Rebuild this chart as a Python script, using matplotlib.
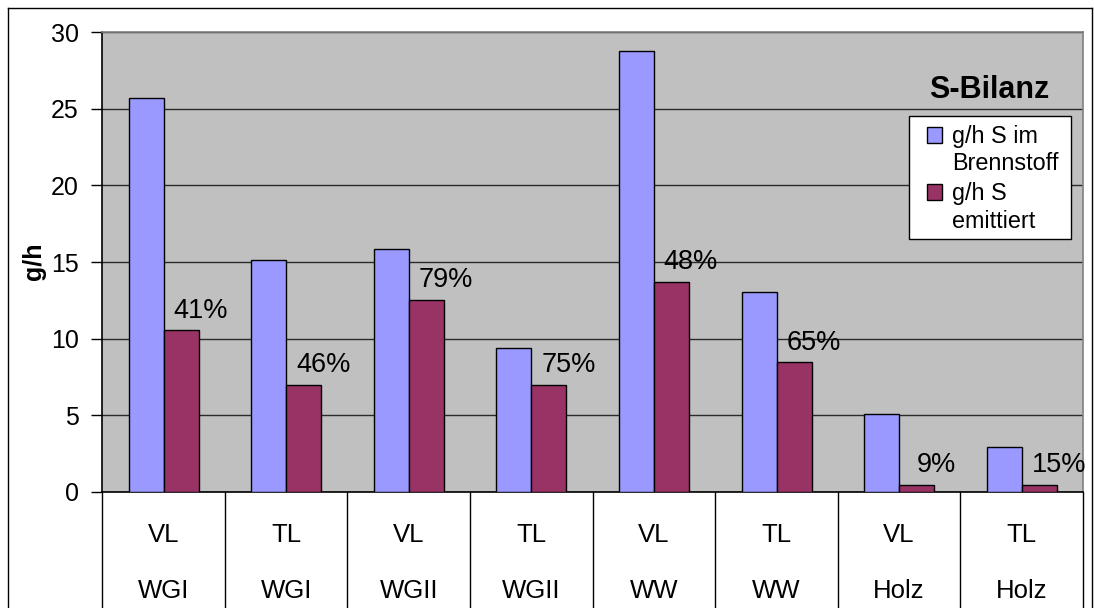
import matplotlib
matplotlib.use('Agg')
import matplotlib.pyplot as plt
from matplotlib.patches import Rectangle
from matplotlib.lines import Line2D
import numpy as np

plt.rcParams['font.family'] = ['Liberation Sans', 'DejaVu Sans']

# ---- data ----
load_points = ['VL', 'TL', 'VL', 'TL', 'VL', 'TL', 'VL', 'TL']
fuels = ['WGI', 'WGI', 'WGII', 'WGII', 'WW', 'WW', 'Holz', 'Holz']
s_fuel = [25.7, 15.15, 15.85, 9.4, 28.75, 13.05, 5.1, 2.95]
s_emitted = [10.55, 7.0, 12.55, 7.0, 13.7, 8.45, 0.45, 0.44]
pct_labels = ['41%', '46%', '79%', '75%', '48%', '65%', '9%', '15%']
series_names = ['g/h S im\nBrennstoff', 'g/h S\nemittiert']
yticks = [0, 5, 10, 15, 20, 25, 30]
title = 'S-Bilanz'
ylabel = 'g/h'

# ---- figure ----
W, H = 1094, 608
fig = plt.figure(figsize=(W / 100, H / 100), dpi=100)
fig.patch.set_facecolor('white')


def fx(v):
    return v / W


def fy(v):
    return 1 - v / H


L, R, T, B = 102.3, 1083.0, 32.3, 491.7
ax = fig.add_axes([fx(L), fy(B), fx(R) - fx(L), fy(T) - fy(B)])
ax.set_facecolor('#C0C0C0')

x = np.arange(len(fuels))
bw = 1 / 3.5
c_fuel, c_emit = '#9999FF', '#993366'
ax.bar(x - bw / 2, s_fuel, bw, color=c_fuel, edgecolor='black', linewidth=1.0, zorder=3)
ax.bar(x + bw / 2, s_emitted, bw, color=c_emit, edgecolor='black', linewidth=1.0, zorder=3)

ax.set_xlim(-0.5, len(fuels) - 0.5)
ax.set_ylim(0, 30)
ax.set_yticks(yticks)
ax.tick_params(axis='y', direction='out', length=8, width=1, pad=9, labelsize=18)
ax.set_xticks([])
ax.set_axisbelow(True)
ax.yaxis.grid(True, color='#2a2a2a', linewidth=1.0)

for s in ['left', 'bottom']:
    ax.spines[s].set_color('black')
    ax.spines[s].set_linewidth(1.2)
for s in ['top', 'right']:
    ax.spines[s].set_color('#808080')
    ax.spines[s].set_linewidth(1.2)

# category table below axis
xt = ax.get_xaxis_transform()
for b in np.arange(-0.5, len(fuels)):
    ax.plot([b, b], [0, -0.4], transform=xt, color='black', lw=1.0, clip_on=False)
for i in range(len(fuels)):
    ax.text(x[i], -0.1088, load_points[i], transform=xt, ha='center', va='baseline', fontsize=18.5)
    ax.text(x[i], -0.232, fuels[i], transform=xt, ha='center', va='baseline', fontsize=18.5)

# percentage labels
for i in range(len(fuels)):
    ax.annotate(pct_labels[i], xy=(x[i] + bw / 2, s_emitted[i]), xytext=(14, 9),
                textcoords='offset points', ha='center', va='baseline', fontsize=19.5)

# y label
fig.text(fx(34), fy(261.5), ylabel, rotation=90, ha='center', va='center',
         fontweight='bold', fontsize=18)

# title
fig.text(fx(989), fy(98.3), title, ha='center', va='baseline', fontweight='bold', fontsize=22)

# legend (custom drawn)
fig.add_artist(Rectangle((fx(909), fy(239)), fx(1071) - fx(909), fy(116) - fy(239),
                         transform=fig.transFigure, facecolor='white', edgecolor='black', lw=1.0))
leg_colors = [c_fuel, c_emit]
leg_rows = [(135, [143, 170]), (192, [200, 228])]
for name, col, (cy, baselines) in zip(series_names, leg_colors, leg_rows):
    fig.add_artist(Rectangle((fx(927), fy(cy + 7.5)), fx(15), 15 / H,
                             transform=fig.transFigure, facecolor=col, edgecolor='black', lw=1.0))
    for line, bl in zip(name.split('\n'), baselines):
        fig.text(fx(952), fy(bl), line, ha='left', va='baseline', fontsize=16.8)

# outer chart frame
for xs, ys in [([7.5, 7.5], [7.5, 620]), ([7.5, 1091.5], [7.5, 7.5]), ([1091.5, 1091.5], [7.5, 620])]:
    fig.add_artist(Line2D([fx(v) for v in xs], [fy(v) for v in ys], transform=fig.transFigure,
                          color='black', lw=1.0))

fig.savefig('out.png', dpi=100, facecolor='white')
